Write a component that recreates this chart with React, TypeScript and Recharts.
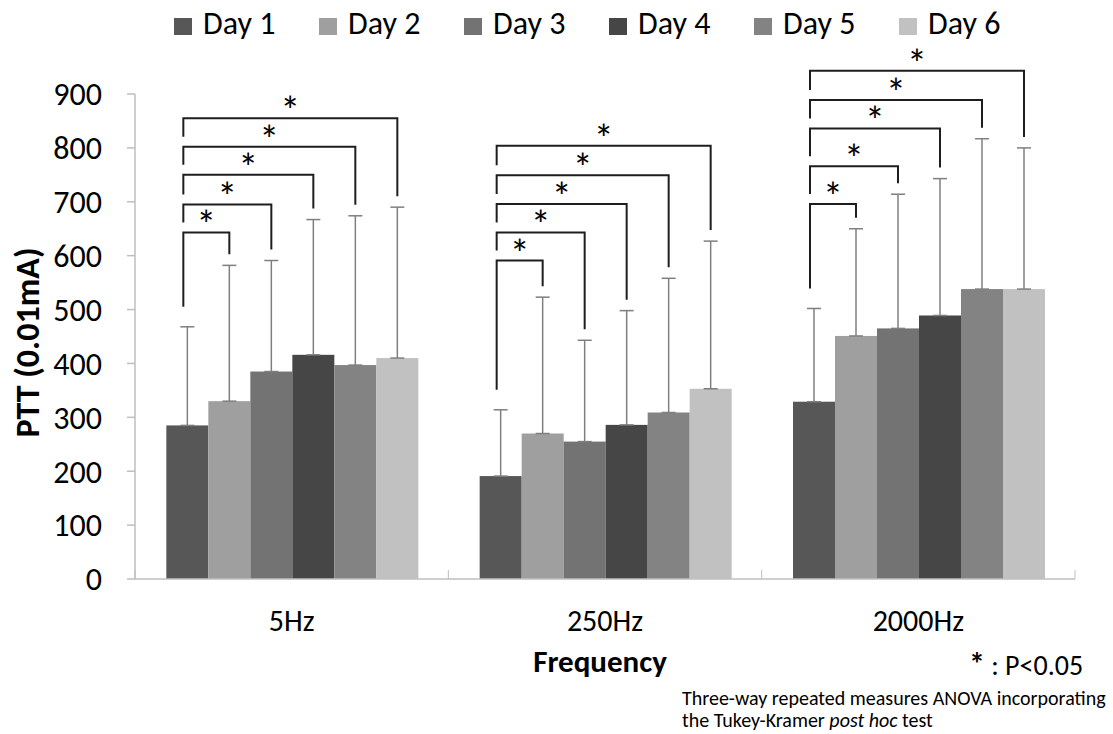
import React from "react";
import { BarChart, Bar, XAxis, YAxis, ErrorBar, Legend } from "recharts";

const FONT = "Carlito, Calibri, Lato, 'Open Sans', sans-serif";

const categories = ["5Hz", "250Hz", "2000Hz"];
const dayNames = ["Day 1", "Day 2", "Day 3", "Day 4", "Day 5", "Day 6"];
const dayColors = ["#575757", "#9f9f9f", "#737373", "#464646", "#838383", "#c1c1c1"];

// mean PTT per day, in order 5Hz, 250Hz, 2000Hz
const day1 = [285, 191, 329];
const day2 = [330, 270, 451];
const day3 = [385, 255, 465];
const day4 = [416, 286, 489];
const day5 = [397, 309, 538];
const day6 = [410, 353, 538];

// upper error (SD)
const day1Sd = [183, 123, 173];
const day2Sd = [252, 253, 199];
const day3Sd = [206, 188, 249];
const day4Sd = [251, 212, 254];
const day5Sd = [277, 249, 279];
const day6Sd = [280, 274, 262];

// height of the Day 1 vs Day 2..6 brackets
const bracket5Hz = [643, 695, 750, 802, 855];
const bracket250Hz = [591, 643, 696, 749, 804];
const bracket2000Hz = [696, 766, 836, 889, 943];

const yTicks = [0, 100, 200, 300, 400, 500, 600, 700, 800, 900];

const means = [day1, day2, day3, day4, day5, day6];
const sds = [day1Sd, day2Sd, day3Sd, day4Sd, day5Sd, day6Sd];
const brackets = [bracket5Hz, bracket250Hz, bracket2000Hz];

const data = categories.map((name, i) => {
  const row: any = { name, brackets: brackets[i] };
  means.forEach((m, d) => {
    row[`d${d + 1}`] = m[i];
    row[`e${d + 1}`] = [0, sds[d][i]];
  });
  return row;
});

const X_TICK_GAP = 31;

function makeShape(dayIndex: number) {
  return (props: any) => {
    const { x, y, width, height, fill, payload } = props;
    const rect = <rect x={x} y={y} width={width} height={height} fill={fill} />;
    if (dayIndex === 0 || !payload) return rect;

    const value = payload[`d${dayIndex + 1}`];
    const base = y + height;
    const k = height / value;
    const py = (v: number) => base - v * k;

    const xr = x + width / 2;
    const xl = x - dayIndex * width + width / 2 - 4;
    const top = py(payload.brackets[dayIndex - 1]);
    const rightEnd = py(value + payload[`e${dayIndex + 1}`][1]) - 11;
    const leftEnd =
      dayIndex === 1
        ? py(payload.d1 + payload.e1[1]) - 20
        : py(payload.brackets[dayIndex - 2]) - 10;

    return (
      <g>
        {rect}
        <polyline
          points={`${xl},${leftEnd} ${xl},${top} ${xr},${top} ${xr},${rightEnd}`}
          fill="none"
          stroke="#1e1e1e"
          strokeWidth={2}
        />
        <text
          x={(xl + xr) / 2}
          y={top + 7}
          textAnchor="middle"
          fontSize={40}
          fontFamily={FONT}
          fill="#000"
        >
          *
        </text>
      </g>
    );
  };
}

function CategoryTick(props: any) {
  const { x, y, payload, width } = props;
  const half = payload?.offset || (width || 940) / categories.length / 2;
  const axisY = y - X_TICK_GAP;
  const isLast = payload?.index === categories.length - 1 || payload?.value === categories[categories.length - 1];
  return (
    <g>
      <line x1={x - half} x2={x - half} y1={axisY - 9} y2={axisY} stroke="#bfbfbf" />
      {isLast && (
        <line x1={x + half} x2={x + half} y1={axisY - 9} y2={axisY} stroke="#bfbfbf" />
      )}
      <text x={x} y={y} dy="0.71em" textAnchor="middle" fontSize={30} fontFamily={FONT} fill="#000">
        {payload.value}
      </text>
    </g>
  );
}

function YTitle(props: any) {
  const vb = props.viewBox || { x: 75, y: 94, width: 60, height: 485 };
  const cy = vb.y + vb.height / 2 + 6;
  return (
    <text
      x={27}
      y={cy}
      transform={`rotate(-90 27 ${cy})`}
      textAnchor="middle"
      dominantBaseline="central"
      fontSize={34}
      fontWeight={700}
      fontFamily={FONT}
      fill="#000"
    >
      PTT (0.01mA)
    </text>
  );
}

function XTitle(props: any) {
  const vb = props.viewBox || { x: 135, y: 579, width: 940, height: 60 };
  return (
    <text
      x={vb.x + vb.width / 2 - 5}
      y={vb.y + 93}
      textAnchor="middle"
      fontSize={31}
      fontWeight={700}
      fontFamily={FONT}
      fill="#000"
    >
      Frequency
    </text>
  );
}

function LegendContent() {
  return (
    <div style={{ display: "flex", paddingLeft: 174, paddingTop: 3, fontFamily: FONT }}>
      {dayNames.map((n, i) => (
        <div key={n} style={{ width: 145, display: "flex", alignItems: "center" }}>
          <div style={{ width: 18, height: 17, background: dayColors[i], marginRight: 11, marginTop: 4 }} />
          <span style={{ fontSize: 32, lineHeight: "42px", color: "#000" }}>{n}</span>
        </div>
      ))}
    </div>
  );
}

export default function App() {
  return (
    <div style={{ position: "absolute", left: 0, top: 0, width: 1113, height: 734, background: "#fff" }}>
      <BarChart
        width={1113}
        height={734}
        data={data}
        margin={{ top: 94, right: 38, bottom: 95, left: 75 }}
        barCategoryGap="10%"
        barGap={0}
      >
        <XAxis
          dataKey="name"
          height={60}
          interval={0}
          axisLine={{ stroke: "#bfbfbf", strokeWidth: 1.5 }}
          tickLine={false}
          tickSize={0}
          tickMargin={X_TICK_GAP}
          tick={(p: any) => <CategoryTick {...p} />}
          label={(p: any) => <XTitle {...p} />}
        />
        <YAxis
          domain={[0, 900]}
          ticks={yTicks}
          interval={0}
          width={60}
          axisLine={{ stroke: "#bfbfbf", strokeWidth: 1.5 }}
          tickLine={{ stroke: "#bfbfbf", strokeWidth: 1.5 }}
          tickSize={8}
          tickMargin={25}
          tick={{ fill: "#000", fontSize: 32, fontFamily: FONT }}
          label={(p: any) => <YTitle {...p} />}
        />
        <Legend
          verticalAlign="middle"
          align="center"
          layout="horizontal"
          wrapperStyle={{ top: 0, left: 0, width: 1113, height: 46 }}
          content={() => <LegendContent />}
        />
        {dayNames.map((n, i) => (
          <Bar
            key={n}
            dataKey={`d${i + 1}`}
            name={n}
            fill={dayColors[i]}
            isAnimationActive={false}
            shape={makeShape(i)}
          >
            <ErrorBar
              dataKey={`e${i + 1}`}
              direction="y"
              width={7}
              stroke="#7f7f7f"
              strokeWidth={1.5}
              isAnimationActive={false}
            />
          </Bar>
        ))}
      </BarChart>
      <svg
        width={1113}
        height={734}
        style={{ position: "absolute", left: 0, top: 0, pointerEvents: "none" }}
      >
        <text x={969} y={675} fontSize={28} fontFamily={FONT} fill="#000">
          <tspan fontWeight={700} fontSize={32}>*</tspan>
          <tspan> : P&lt;0.05</tspan>
        </text>
        <text x={682} y={705} fontSize={20} fontFamily={FONT} fill="#000">
          Three-way repeated measures ANOVA incorporating
        </text>
        <text x={682} y={727} fontSize={20} fontFamily={FONT} fill="#000">
          the Tukey-Kramer <tspan fontStyle="italic">post hoc</tspan> test
        </text>
      </svg>
    </div>
  );
}
